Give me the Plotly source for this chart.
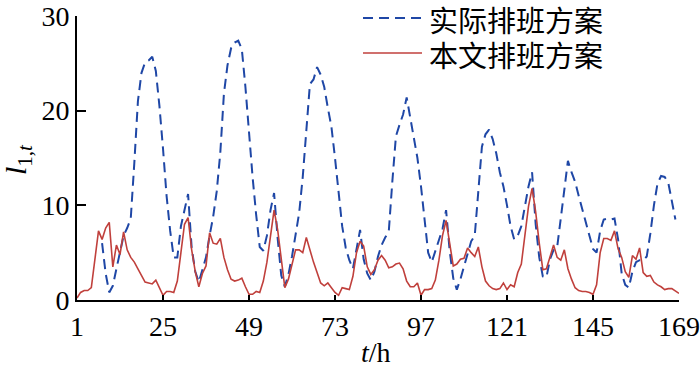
import plotly.graph_objects as go

hours = list(range(1, 170))

red_values = [
    0.2, 0.8, 1.0, 1.0, 1.3, 4.3, 7.3, 6.4, 7.6, 8.2,
    3.5, 5.8, 4.8, 7.2, 5.3, 4.5, 4.0, 3.3, 2.6, 1.9,
    1.8, 1.7, 2.1, 1.2, 0.5, 0.9, 0.9, 0.8, 2.0, 5.0,
    8.0, 8.7, 5.3, 3.0, 1.4, 2.8, 3.6, 7.1, 6.0, 5.9,
    6.5, 4.5, 3.2, 2.2, 2.0, 2.1, 2.3, 1.4, 0.6, 0.6,
    0.9, 0.8, 2.0, 4.0, 6.5, 9.5, 7.4, 4.0, 1.3, 2.2,
    3.6, 5.3, 5.3, 5.0, 6.6, 5.2, 4.0, 2.9, 1.8, 1.5,
    1.8, 1.3, 0.8, 0.5, 1.3, 1.2, 1.1, 2.5, 5.0, 6.2,
    5.7, 3.5, 2.7, 3.2, 4.2, 4.7, 4.2, 3.4, 3.5, 3.8,
    3.9, 3.3, 2.0, 1.4, 1.4, 1.8, 0.5, 1.1, 1.1, 1.2,
    2.1, 4.2, 6.8, 8.4, 6.0, 3.6, 3.8, 4.3, 4.4, 5.5,
    5.0, 4.6, 5.6, 3.5, 2.0, 1.5, 1.2, 1.1, 1.2, 1.8,
    1.1, 1.6, 1.4, 2.9, 3.8, 6.8, 9.9, 11.8, 9.3, 6.0,
    3.2, 3.3, 4.5, 5.8, 4.5, 4.2, 5.3, 3.3, 2.2, 1.3,
    1.0, 0.9, 0.9, 0.8, 0.6, 1.6, 5.0, 6.5, 6.5, 6.3,
    7.3, 5.4, 4.5, 3.0, 2.4, 4.7, 4.3, 5.5, 2.9, 2.5,
    2.6, 1.9, 1.6, 1.4, 1.1, 1.2, 1.2, 0.9, 0.7,
]

blue_values = [
    None, None, None, None, None, None, None, 6.0, 2.8, 0.8,
    1.5, 3.3, 5.2, 6.8, 7.6, 8.6, 14.5, 21.0, 24.0, 25.1,
    25.3, 25.7, 24.2, 20.5, 16.0, 11.0, 7.3, 4.5, 4.5, 7.8,
    9.5, 11.2, 5.5, 3.0, 1.9, 3.2, 4.5, 6.8, 8.8, 11.5,
    15.6, 21.8, 24.8, 26.6, 27.2, 27.4, 26.5, 22.5, 17.5, 13.0,
    9.0, 5.6, 5.2, 6.8, 9.5, 11.3, 6.5, 2.6, 1.4, 2.7,
    4.6, 6.8, 9.2, 13.0, 18.0, 22.8, 23.3, 24.6, 23.8, 22.5,
    20.3, 18.3, 15.0, 11.0, 7.8, 5.5, 4.2, 3.3, 5.2, 7.4,
    4.3, 2.8, 2.1, 3.0, 4.6, 5.8, 6.6, 7.2, 12.5, 17.3,
    18.5, 19.6, 21.4, 19.2, 17.0, 15.0, 12.0, 8.5, 5.0, 4.0,
    5.2, 6.5, 7.5, 9.5, 5.2, 2.3, 1.1, 2.2, 3.6, 5.0,
    6.2, 6.8, 12.0, 16.2, 17.5, 18.0, 17.0, 15.5, 13.5, 12.0,
    10.0, 7.8, 6.4, 6.8, 7.8, 9.9, 12.0, 13.5, 8.0, 4.5,
    2.5, 2.4, 4.3, 5.3, 5.6, 8.6, 11.8, 14.7, 13.5, 12.5,
    11.0, 9.6, 8.0, 6.6, 5.4, 5.0, 7.3, 8.5, 8.6, 8.5,
    8.6, 6.4, 2.8, 1.6, 1.3, 3.0, 4.0, 4.2, 4.2, 4.6,
    7.0, 10.0, 12.3, 13.1, 13.0, 12.4, 10.6, 8.5, None,
]

x_ticks = [1, 25, 49, 73, 97, 121, 145, 169]
y_ticks = [0, 10, 20, 30]
series_names = ["实际排班方案", "本文排班方案"]
series_colors = ["#1f47a6", "#c0403c"]

W, H = 700, 374
ML, MT = 77, 16
MR = W - 679
MB = H - 300
PW, PH = W - ML - MR, H - MT - MB


def wx(px):
    return (px - ML) / PW


def wy(py):
    return (H - MB - py) / PH


fig = go.Figure()
fig.add_trace(go.Scatter(
    x=hours, y=blue_values, mode="lines", name=series_names[0],
    line=dict(color=series_colors[0], width=2, dash="10px,6px"),
))
fig.add_trace(go.Scatter(
    x=hours, y=red_values, mode="lines", name=series_names[1],
    line=dict(color=series_colors[1], width=1.6),
))

tick_font = dict(family="Liberation Serif", size=28, color="black")

# legend drawn at the top right, as in the reference
legend_rows_py = [19, 54]
shapes = []
annotations = []
for i, (name, color) in enumerate(zip(series_names, series_colors)):
    py = legend_rows_py[i]
    shapes.append(dict(
        type="line", xref="paper", yref="paper",
        x0=wx(363), x1=wx(422), y0=wy(py - 1), y1=wy(py - 1),
        line=dict(color=color, width=2 if i == 0 else 1.6,
                  dash="10px,6px" if i == 0 else "solid"),
    ))
    annotations.append(dict(
        text=name, xref="paper", yref="paper",
        x=wx(427), y=wy(py),
        xanchor="left", yanchor="middle", showarrow=False,
        font=dict(family="Noto Sans CJK SC", size=29, color="black"),
    ))

# axis titles
annotations.append(dict(
    text="<i>t</i>/h", xref="paper", yref="paper",
    x=wx(376), y=wy(352),
    xanchor="center", yanchor="middle", showarrow=False,
    font=tick_font,
))
annotations.append(dict(
    text="<i>l</i><sub>1,<i>t</i></sub>", xref="paper", yref="paper",
    x=wx(18), y=wy(160),
    xanchor="center", yanchor="middle", showarrow=False, textangle=-90,
    font=dict(family="Liberation Serif", size=30, color="black"),
))

fig.update_layout(
    width=W, height=H,
    margin=dict(l=ML, r=MR, t=MT, b=MB, autoexpand=False),
    paper_bgcolor="white", plot_bgcolor="white",
    showlegend=False,
    shapes=shapes,
    annotations=annotations,
    xaxis=dict(
        range=[1, 169], tickvals=x_ticks, ticktext=[str(v) for v in x_ticks],
        ticks="inside", ticklen=5, tickwidth=1.5, tickcolor="black",
        showline=True, linecolor="black", linewidth=2,
        showgrid=False, zeroline=False, tickfont=tick_font,
        automargin=False, ticklabeloverflow="allow",
    ),
    yaxis=dict(
        range=[0, 30], tickvals=y_ticks, ticktext=[str(v) for v in y_ticks],
        ticks="inside", ticklen=9, tickwidth=1.5, tickcolor="black",
        showline=True, linecolor="black", linewidth=2,
        showgrid=False, zeroline=False, tickfont=tick_font,
        automargin=False, ticklabeloverflow="allow",
    ),
)

# remove the page's default body margin so the 700x374 figure fills the window
fig.write_html(
    "out.html",
    config={"displayModeBar": False},
    post_script="document.body.style.margin='0';document.body.style.overflow='hidden';",
)
